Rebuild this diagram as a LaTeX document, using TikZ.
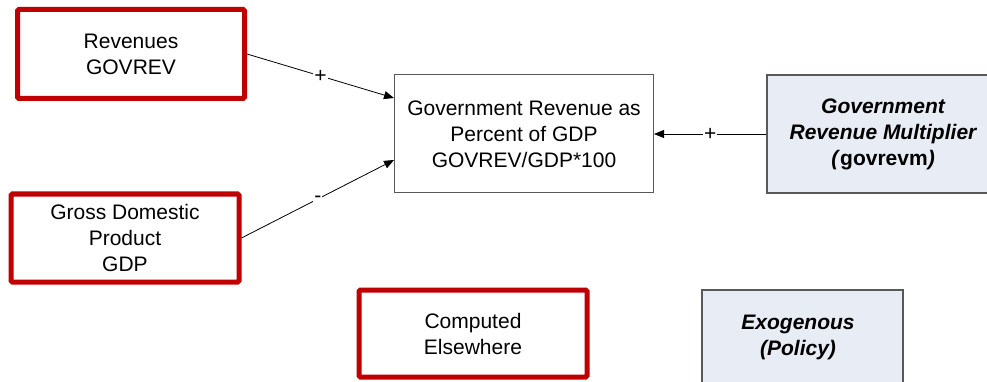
\documentclass[tikz,border=0pt]{standalone}
\usepackage{fontspec}
\setmainfont{Liberation Sans}
\usetikzlibrary{arrows.meta}
\definecolor{boxred}{HTML}{C00000}
\definecolor{exofill}{HTML}{E8ECF4}
\definecolor{edgegrey}{HTML}{595959}

\begin{document}
\begin{tikzpicture}[x=1pt,y=-1pt]
		\tikzstyle{every node}+=[font=\fontsize{21}{26}\selectfont, inner sep=0pt]
		\tikzstyle{computed}=[draw=boxred, line width=5pt, rounded corners=1.5pt, align=center]
		\tikzstyle{exogenous}=[draw=edgegrey, fill=exofill, line width=1.2pt, font=\fontsize{21}{26}\selectfont\bfseries\itshape]
		\tikzstyle{calc}=[draw=edgegrey, line width=1pt, align=center]
		\tikzstyle{link}=[-{Triangle[length=10pt,width=8pt]}, line width=0.8pt]
		\tikzstyle{sign}=[fill=white, inner sep=1pt]
		\useasboundingbox (0,0) rectangle (987,382);
		\node [computed, minimum width=227pt, minimum height=89pt] (govrev) at (131,54) {Revenues\\GOVREV};
		\node [computed, minimum width=228pt, minimum height=88pt] (gdp) at (125,238) {Gross Domestic\\Product\\GDP};
		\node [calc, minimum width=259pt, minimum height=118pt] (share) at (524,134) {Government Revenue as\\Percent of GDP\\GOVREV/GDP*100};
		% box runs off the right edge, text sits left of its centre
		\node [exogenous, minimum width=260pt, minimum height=118pt] (govrevm) at (897,134)
			{\begin{tabular}{@{}c@{}}Government\\Revenue Multiplier\\(\textup{govrevm})\end{tabular}\hspace*{28pt}};
		\node [computed, minimum width=228pt, minimum height=87pt] (keycomp) at (473,333.5) {Computed\\Elsewhere};
		\node [exogenous, minimum width=201pt, minimum height=94pt] (keyexo) at (802.5,337)
			{\begin{tabular}{@{}c@{}}Exogenous\\(Policy)\end{tabular}\hspace*{9pt}};
		\draw [link] (govrev.east) -- node [sign] {+} ([yshift=36pt]share.west);
		\draw [link] (gdp.east) -- node [sign] {-} ([yshift=-26pt]share.west);
		\draw [link] (govrevm.west) -- node [sign] {+} (share.east);
\end{tikzpicture}
\end{document}
